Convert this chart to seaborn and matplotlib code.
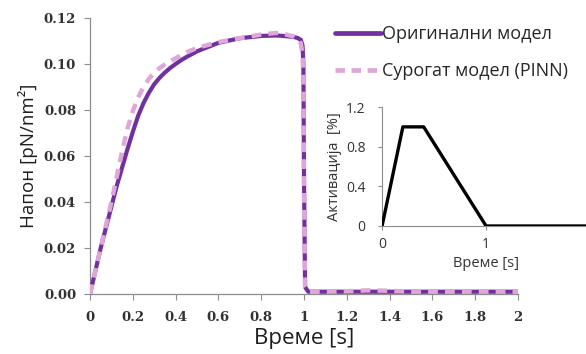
import matplotlib
matplotlib.use("Agg")
import matplotlib.pyplot as plt
from matplotlib.lines import Line2D
import seaborn as sns
import pandas as pd

# Stress response over time
time = [0, 0.025, 0.05, 0.075, 0.1, 0.125, 0.15, 0.175, 0.2, 0.225, 0.25, 0.275,
        0.3, 0.325, 0.35, 0.375, 0.4, 0.425, 0.45, 0.5, 0.6, 0.7, 0.8, 0.87, 0.9,
        0.95, 0.97, 0.985, 0.993, 0.997, 1.0, 1.005, 1.02, 1.1, 1.2, 1.3, 1.4,
        1.5, 1.6, 1.7, 1.8, 1.9, 2.0]
stress_original = [0, 0.010, 0.020, 0.029, 0.038, 0.047, 0.055, 0.063, 0.0705, 0.0775,
                   0.0830, 0.0875, 0.0912, 0.0940, 0.0963, 0.0983, 0.1000, 0.1016,
                   0.1030, 0.1055, 0.1092, 0.1112, 0.1122, 0.1124, 0.1122, 0.1118,
                   0.1113, 0.1105, 0.108, 0.100, 0.050, 0.003, 0.001, 0.001, 0.001,
                   0.001, 0.001, 0.001, 0.001, 0.001, 0.001, 0.001, 0.001]
stress_pinn = [0, 0.010, 0.020, 0.030, 0.040, 0.051, 0.062, 0.072, 0.0795, 0.0855,
               0.0900, 0.0935, 0.0962, 0.0982, 0.0998, 0.1012, 0.1025, 0.1038,
               0.1050, 0.107, 0.1095, 0.1112, 0.1128, 0.1135, 0.1132, 0.112, 0.111,
               0.109, 0.104, 0.095, 0.045, 0.003, 0.001, 0.001, 0.0012, 0.0016,
               0.0014, 0.001, 0.001, 0.001, 0.001, 0.001, 0.001]

# Activation input
act_time = [0, 0.2, 0.4, 1.0, 2.0]
activation = [0, 1.0, 1.0, 0, 0]

label_original = "Оригинални модел"
label_pinn = "Сурогат модел (PINN)"

x_ticks = [0, 0.2, 0.4, 0.6, 0.8, 1.0, 1.2, 1.4, 1.6, 1.8, 2.0]
x_tick_labels = ["0", "0.2", "0.4", "0.6", "0.8", "1", "1.2", "1.4", "1.6", "1.8", "2"]
y_ticks = [0, 0.02, 0.04, 0.06, 0.08, 0.10, 0.12]
y_tick_labels = ["0.00", "0.02", "0.04", "0.06", "0.08", "0.10", "0.12"]
in_x_ticks = [0, 1, 2]
in_x_labels = ["0", "1", ""]
in_y_ticks = [0, 0.4, 0.8, 1.2]
in_y_labels = ["0", "0.4", "0.8", "1.2"]

sns.set_style("white")
plt.rcParams["font.family"] = ["Open Sans", "DejaVu Sans"]

PURPLE = "#7030A0"
PINK = "#E0A6D9"
GRAY = "#8C8C8C"
TXT = "#1E1E1E"

df = pd.DataFrame({"t": time, "orig": stress_original, "pinn": stress_pinn})
df_act = pd.DataFrame({"t": act_time, "a": activation})

fig = plt.figure(figsize=(5.86, 3.54), dpi=100)
ax = fig.add_axes([0.1536, 0.1695, 0.7304, 0.7797])

sns.lineplot(data=df, x="t", y="orig", ax=ax, color=PURPLE, linewidth=3.0,
             zorder=3, solid_capstyle="butt")
sns.lineplot(data=df, x="t", y="pinn", ax=ax, color=PINK, linewidth=3.2,
             linestyle=(0, (2.2, 1.6)), zorder=4)

ax.set_xlim(0, 2)
ax.set_ylim(0, 0.12)
ax.set_xticks(x_ticks)
ax.set_xticklabels(x_tick_labels)
ax.set_yticks(y_ticks)
ax.set_yticklabels(y_tick_labels)
for lab in ax.get_xticklabels() + ax.get_yticklabels():
    lab.set_fontfamily("DejaVu Serif")
    lab.set_fontweight("bold")
    lab.set_fontsize(9.5)
    lab.set_color("#333333")
ax.tick_params(axis="both", direction="out", length=4, width=0.8, color=GRAY,
               bottom=True, left=True)
ax.tick_params(axis="x", pad=8)
ax.tick_params(axis="y", pad=6)
for s in ["top", "right"]:
    ax.spines[s].set_visible(False)
for s in ["left", "bottom"]:
    ax.spines[s].set_color(GRAY)
    ax.spines[s].set_linewidth(0.9)
ax.set_xlabel("Време [s]", fontsize=16, color=TXT, labelpad=3)
ax.set_ylabel("Напон [pN/nm²]", fontsize=13.5, color=TXT, labelpad=4)

handles = [Line2D([], [], color=PURPLE, linewidth=3.4),
           Line2D([], [], color=PINK, linewidth=3.4, linestyle=(0, (2.0, 1.4)))]
fig.legend(handles, [label_original, label_pinn], loc="upper left",
           bbox_to_anchor=(0.557, 0.955), frameon=False, fontsize=13,
           handlelength=2.5, handletextpad=0.1, labelspacing=1.05, borderpad=0)

# Inset with the activation profile
ax2 = fig.add_axes([0.652, 0.3616, 0.355, 0.336])
ax2.set_facecolor("white")
sns.lineplot(data=df_act, x="t", y="a", ax=ax2, color="black", linewidth=2.4,
             zorder=3)
ax2.set_xlim(0, 2)
ax2.set_ylim(0, 1.2)
ax2.set_xticks(in_x_ticks)
ax2.set_xticklabels(in_x_labels)
ax2.set_yticks(in_y_ticks)
ax2.set_yticklabels(in_y_labels)
for lab in ax2.get_xticklabels() + ax2.get_yticklabels():
    lab.set_fontsize(10)
    lab.set_color("#333333")
ax2.tick_params(axis="both", direction="out", length=3, width=0.8, color=GRAY,
                bottom=True, left=True)
ax2.tick_params(axis="x", pad=5)
ax2.tick_params(axis="y", pad=9)
for s in ["top", "right"]:
    ax2.spines[s].set_visible(False)
for s in ["left", "bottom"]:
    ax2.spines[s].set_color(GRAY)
    ax2.spines[s].set_linewidth(0.8)
ax2.set_xlabel("Време [s]", fontsize=10.5, color="#333333", labelpad=3)
ax2.set_ylabel("Активација  [%]", fontsize=10.5, color="#333333", labelpad=3)

fig.savefig("out.png", dpi=100)
